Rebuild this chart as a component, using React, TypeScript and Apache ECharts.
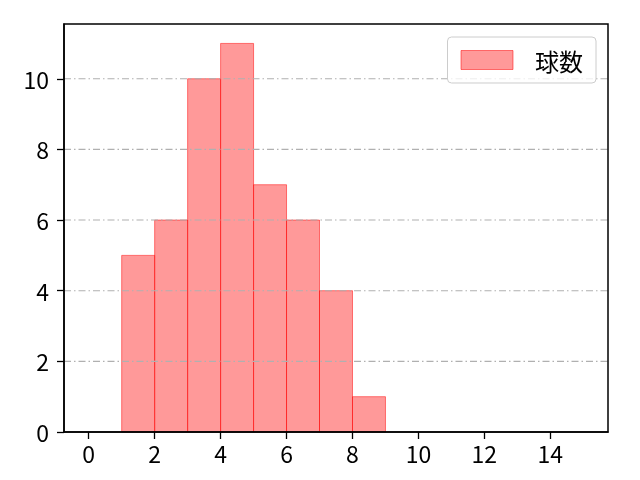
import React, { useEffect, useRef } from "react";
import * as echarts from "echarts";

const binStarts = [1, 2, 3, 4, 5, 6, 7, 8];
const binEnds = [2, 3, 4, 5, 6, 7, 8, 9];
const counts = [5, 6, 10, 11, 7, 6, 4, 1];
const xTicks = [0, 2, 4, 6, 8, 10, 12, 14];
const yTicks = [0, 2, 4, 6, 8, 10];
const seriesName = "球数";

const FONT = "Noto Sans CJK JP";
const FILL = "rgba(255,0,0,0.4)";
const EDGE = "rgba(255,0,0,0.5)";

export default function App() {
  const ref = useRef<HTMLDivElement>(null);
  useEffect(() => {
    if (!ref.current) return;
    const chart = echarts.init(ref.current, undefined, { renderer: "svg" });
    const data = binStarts.map((s, i) => [s, binEnds[i], counts[i]]);
    const gridData = yTicks.filter((v) => v > 0).map((v) => [v]);
    chart.setOption({
      animation: false,
      textStyle: { fontFamily: FONT },
      grid: {
        left: 64,
        right: 32,
        top: 24,
        bottom: 48,
        show: true,
        borderColor: "#000",
        borderWidth: 1.5,
        backgroundColor: "transparent",
        z: 10,
      },
      legend: {
        right: 44,
        top: 37,
        z: 20,
        data: [seriesName],
        icon: "rect",
        itemWidth: 52,
        itemHeight: 19,
        padding: [11, 13, 11, 13],
        borderColor: "#cccccc",
        borderWidth: 1,
        borderRadius: 4,
        backgroundColor: "rgba(255,255,255,0.8)",
        itemStyle: { color: FILL, borderColor: EDGE, borderWidth: 1 },
        textStyle: { fontSize: 24, color: "#000", fontFamily: FONT, padding: [0, 0, 0, 17] },
      },
      xAxis: {
        type: "value",
        min: -0.75,
        max: 15.75,
        z: 5,
        axisLine: { onZero: false, lineStyle: { color: "#000", width: 1.5 } },
        axisTick: { show: true, length: 7, customValues: xTicks, lineStyle: { color: "#000", width: 1.3 } },
        axisLabel: { customValues: xTicks, fontSize: 23, color: "#000", margin: 9, fontFamily: FONT },
        splitLine: { show: false },
      },
      yAxis: {
        type: "value",
        min: 0,
        max: 11.55,
        interval: 2,
        z: 5,
        axisLine: { show: true, onZero: false, lineStyle: { color: "#000", width: 1.5 } },
        axisTick: { show: true, length: 7, customValues: yTicks, lineStyle: { color: "#000", width: 1.3 } },
        axisLabel: { customValues: yTicks, fontSize: 23, color: "#000", margin: 15, fontFamily: FONT },
        splitLine: { show: false },
      },
      series: [
        {
          name: seriesName,
          type: "custom",
          z: 1,
          itemStyle: { color: FILL, borderColor: EDGE, borderWidth: 1 },
          encode: { x: [0, 1], y: 2 },
          data,
          renderItem: (params: any, api: any) => {
            const p0 = api.coord([api.value(0), api.value(2)]);
            const p1 = api.coord([api.value(1), 0]);
            return {
              type: "rect",
              shape: { x: p0[0], y: p0[1], width: p1[0] - p0[0], height: p1[1] - p0[1] },
              style: { fill: FILL, stroke: EDGE, lineWidth: 1 },
            };
          },
        },
        {
          name: "grid",
          type: "custom",
          z: 3,
          silent: true,
          encode: { y: 0 },
          data: gridData,
          renderItem: (params: any, api: any) => {
            const cs = params.coordSys;
            const y = api.coord([0, api.value(0)])[1];
            return {
              type: "line",
              shape: { x1: cs.x, y1: y, x2: cs.x + cs.width, y2: y },
              style: { stroke: "#b0b0b0", lineWidth: 1.1, lineDash: [7, 3, 1.5, 3] },
            };
          },
        },
      ],
    });
    return () => chart.dispose();
  }, []);
  return <div ref={ref} style={{ position: "fixed", left: 0, top: 0, width: 640, height: 480 }} />;
}
